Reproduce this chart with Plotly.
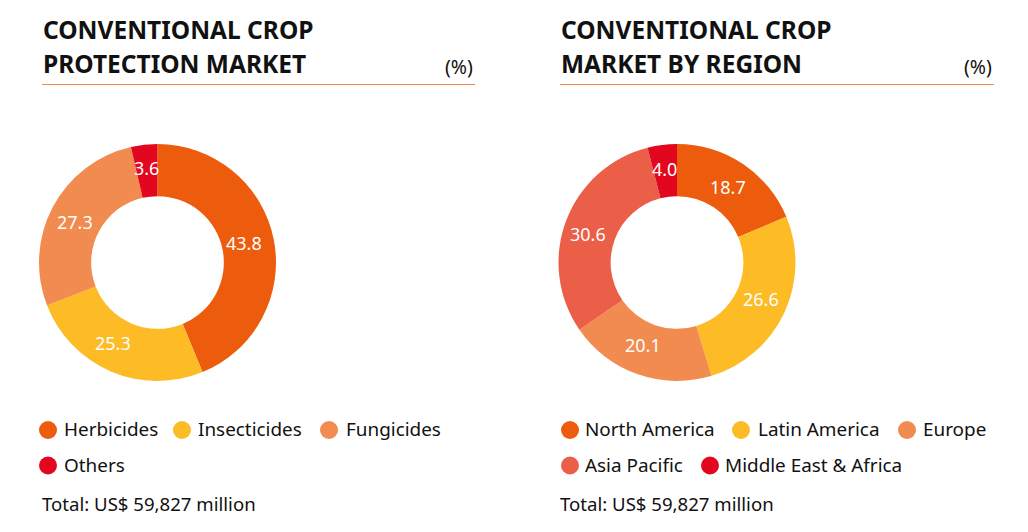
import plotly.graph_objects as go
import math

W = 1028
H = 532

protection_labels = ["Herbicides", "Insecticides", "Fungicides", "Others"]
protection_values = [43.8, 25.3, 27.3, 3.6]
protection_colors = ["#EC5C0C", "#FDBB26", "#F28B50", "#E2071F"]
protection_nudge = [(-4, -2), (-8, -4.5), (-1, 3), (-1, -2.5)]

region_labels = ["North America", "Latin America", "Europe", "Asia Pacific", "Middle East & Africa"]
region_values = [18.7, 26.6, 20.1, 30.6, 4.0]
region_colors = ["#EC5C0C", "#FDBB26", "#F28B50", "#EB5E47", "#E2071F"]
region_nudge = [(0, 1.5), (0, -3), (-4, -5), (-2, 4), (-1, -2)]

total_text = "Total: US$ 59,827 million"
FONT = "Noto Sans"
TEXT = "#111111"
LABEL_SIZE = 18


def px(x):
    return x / W


def py(y):
    return 1 - y / H


def add_text(fig, x, y, text, size, bold=False, anchor="left", color=TEXT):
    if bold:
        text = "<b>" + text + "</b>"
    fig.add_annotation(
        x=px(x), y=py(y), xref="paper", yref="paper", text=text, showarrow=False,
        xanchor=anchor, yanchor="middle",
        font=dict(family=FONT, size=size, color=color),
    )


def add_donut(fig, labels, values, colors, nudge, cx, cy, r=118.5):
    fig.add_trace(go.Pie(
        labels=labels, values=values, sort=False, direction="clockwise", rotation=0,
        hole=0.56, marker=dict(colors=colors, line=dict(width=0)),
        textposition="none",
        domain=dict(x=[px(cx - r), px(cx + r)], y=[py(cy + r), py(cy - r)]),
        showlegend=False, hoverinfo="label+value",
    ))
    # plotly shrinks text in thin slices, so the labels go in as annotations
    ring = r * 0.78
    done = 0
    for v, (dx, dy) in zip(values, nudge):
        mid = 2 * math.pi * (done + v / 2) / sum(values)
        done += v
        add_text(fig, cx + ring * math.sin(mid) + dx, cy - ring * math.cos(mid) + dy,
                 "%.1f" % v, LABEL_SIZE, anchor="center", color="white")


def add_header(fig, x0, x1, line1, line2):
    add_text(fig, x0 - 1.5, 30, line1, 24.5, bold=True)
    add_text(fig, x0 - 1.5, 63, line2, 24.5, bold=True)
    add_text(fig, x1, 67, "(%)", 19.5, anchor="right")
    fig.add_shape(type="line", xref="paper", yref="paper",
                  x0=px(x0), x1=px(x1), y0=py(84.5), y1=py(84.5),
                  line=dict(color="#F28B50", width=1.2))


def add_legend(fig, items):
    # marker x, row y, colour, label x, label
    for mx, my, color, tx, label in items:
        r = 9
        fig.add_shape(type="circle", xref="paper", yref="paper",
                      x0=px(mx - r), x1=px(mx + r), y0=py(my + r), y1=py(my - r),
                      fillcolor=color, line=dict(width=0))
        add_text(fig, tx - 2.5, my - 1, label, 18.9)


fig = go.Figure()
add_donut(fig, protection_labels, protection_values, protection_colors, protection_nudge, 157.5, 262.5)
add_donut(fig, region_labels, region_values, region_colors, region_nudge, 677, 262.5)

add_header(fig, 42, 475, "CONVENTIONAL CROP", "PROTECTION MARKET")
add_header(fig, 560, 994, "CONVENTIONAL CROP", "MARKET BY REGION")

add_legend(fig, [
    (48, 430, protection_colors[0], 64, protection_labels[0]),
    (182, 430, protection_colors[1], 198.5, protection_labels[1]),
    (329, 430, protection_colors[2], 346, protection_labels[2]),
    (48, 465.5, protection_colors[3], 64, protection_labels[3]),
])
add_legend(fig, [
    (570, 430, region_colors[0], 585, region_labels[0]),
    (741, 430, region_colors[1], 758, region_labels[1]),
    (907, 430, region_colors[2], 923, region_labels[2]),
    (570, 465.5, region_colors[3], 585, region_labels[3]),
    (710, 465.5, region_colors[4], 725, region_labels[4]),
])

add_text(fig, 40, 503, total_text, 18.6)
add_text(fig, 558, 503, total_text, 18.6)

fig.update_layout(
    width=W, height=H, autosize=False,
    margin=dict(l=0, r=0, t=0, b=0),
    paper_bgcolor="white", plot_bgcolor="white",
    font=dict(family=FONT),
)

fig.write_html("out.html", post_script="document.body.style.margin = '0';",
               config=dict(displayModeBar=False))
